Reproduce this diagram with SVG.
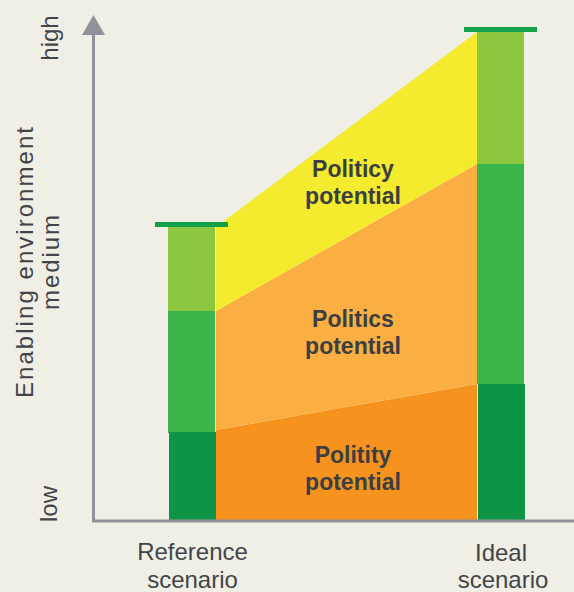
<svg xmlns="http://www.w3.org/2000/svg" width="574" height="592" viewBox="0 0 574 592">
<style>
.lbl{font-family:"Liberation Sans",Arial,sans-serif;font-size:24px;fill:#414549;text-anchor:middle}
.area{font-family:"Liberation Sans",Arial,sans-serif;font-size:23px;font-weight:bold;fill:#3b3f43;text-anchor:middle}
.axis{stroke:#8f9298;stroke-width:3;fill:none}
.cap{fill:#12a14a}
</style>
<rect width="574" height="592" fill="#f0efe5"/>
<g id="areas">
<polygon id="politity-area" points="216,430 477,384 477,521 216,521" fill="#f6921e"/>
<polygon id="politics-area" points="216,311 477,164 477,384 216,430" fill="#fbae42"/>
<polygon id="politicy-area" points="216,227 477,32 477,164 216,311" fill="#f4ea2e"/>
</g>
<g id="reference-bar">
<rect x="168" y="227" width="47" height="84" fill="#8dc63f"/>
<rect x="168" y="311" width="47" height="122" fill="#3cb54a"/>
<rect x="169" y="432" width="47" height="89" fill="#0e9447"/>
<rect class="cap" x="155" y="222" width="73" height="5"/>
</g>
<g id="ideal-bar">
<rect x="477" y="32" width="47" height="132" fill="#8dc63f"/>
<rect x="477" y="164" width="47" height="220" fill="#3cb54a"/>
<rect x="478" y="384" width="47" height="137" fill="#0e9447"/>
<rect class="cap" x="464" y="27" width="73" height="5"/>
</g>
<g id="connectors">
<path class="axis" d="M93.5,35 V521 H574"/>
<polygon points="82,35 105,35 93.5,15" fill="#8f9298"/>
</g>
<g id="labels">
<text class="area" x="353" y="177">Politicy</text>
<text class="area" x="353" y="204">potential</text>
<text class="area" x="353" y="327">Politics</text>
<text class="area" x="353" y="354">potential</text>
<text class="area" x="353" y="463">Politity</text>
<text class="area" x="353" y="490">potential</text>
<text class="lbl" transform="translate(33,262.5) rotate(-90)" textLength="271" lengthAdjust="spacing">Enabling environment</text>
<text class="lbl" transform="translate(59,262.5) rotate(-90)" textLength="95" lengthAdjust="spacing">medium</text>
<text class="lbl" transform="translate(57.5,38) rotate(-90)">high</text>
<text class="lbl" transform="translate(57,504) rotate(-90)">low</text>
<text class="lbl" x="192.5" y="560">Reference</text>
<text class="lbl" x="192.5" y="588">scenario</text>
<text class="lbl" x="501" y="561">Ideal</text>
<text class="lbl" x="503" y="588">scenario</text>
</g>
</svg>
